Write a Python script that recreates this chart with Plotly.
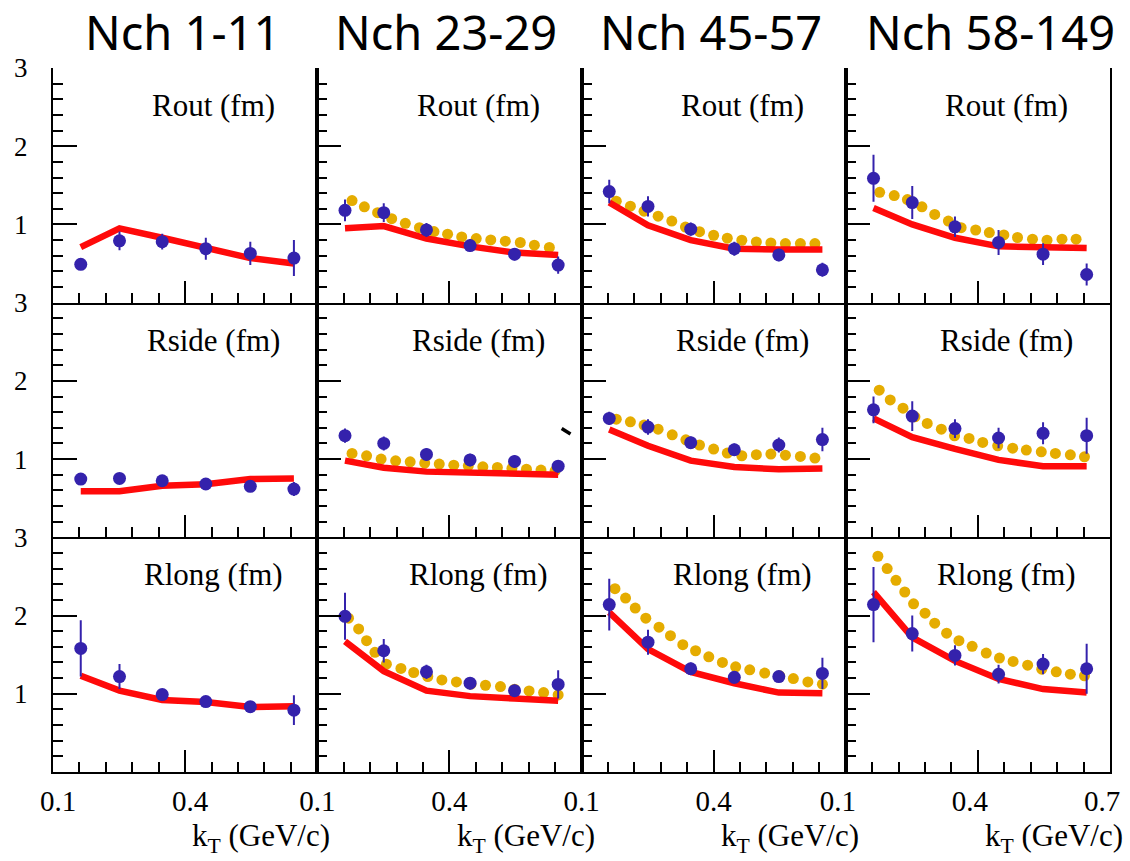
import plotly.graph_objects as go
from plotly.subplots import make_subplots

# ---------------- data ----------------
nch_bins = ["Nch 1-11", "Nch 23-29", "Nch 45-57", "Nch 58-149"]
radii = ["Rout (fm)", "Rside (fm)", "Rlong (fm)"]
kt = [0.163, 0.251, 0.348, 0.447, 0.548, 0.647]

x_ticks = [0.1, 0.4, 0.7]
x_minor = [0.16, 0.22, 0.28, 0.34, 0.46, 0.52, 0.58, 0.64]
y_ticks = [0, 1, 2, 3]
y_ticktext = ["", "1", "2", "3"]

# measured radii (blue points), one list per Nch bin
rout_data = [
    [0.49, 0.79, 0.78, 0.69, 0.63, 0.57],
    [1.18, 1.15, 0.93, 0.73, 0.62, 0.48],
    [1.42, 1.23, 0.94, 0.69, 0.61, 0.42],
    [1.59, 1.28, 0.97, 0.77, 0.62, 0.36],
]
rout_err = [
    [0.05, 0.12, 0.10, 0.14, 0.15, 0.23],
    [0.14, 0.12, 0.09, 0.08, 0.08, 0.11],
    [0.15, 0.13, 0.085, 0.09, 0.08, 0.09],
    [0.30, 0.21, 0.13, 0.16, 0.14, 0.14],
]
rside_data = [
    [0.745, 0.753, 0.723, 0.682, 0.652, 0.617],
    [1.30, 1.20, 1.06, 0.99, 0.97, 0.91],
    [1.52, 1.41, 1.21, 1.12, 1.18, 1.25],
    [1.63, 1.55, 1.39, 1.27, 1.33, 1.30],
]
rside_err = [
    [0.05, 0.05, 0.05, 0.05, 0.05, 0.09],
    [0.09, 0.09, 0.08, 0.08, 0.08, 0.08],
    [0.085, 0.10, 0.08, 0.08, 0.095, 0.15],
    [0.17, 0.19, 0.12, 0.13, 0.14, 0.23],
]
rlong_data = [
    [1.58, 1.22, 0.99, 0.90, 0.835, 0.79],
    [1.99, 1.55, 1.28, 1.135, 1.04, 1.12],
    [2.14, 1.66, 1.32, 1.21, 1.22, 1.26],
    [2.14, 1.77, 1.49, 1.25, 1.38, 1.32],
]
rlong_err = [
    [0.36, 0.16, 0.07, 0.07, 0.06, 0.19],
    [0.30, 0.15, 0.09, 0.08, 0.08, 0.18],
    [0.33, 0.16, 0.08, 0.08, 0.07, 0.20],
    [0.48, 0.23, 0.13, 0.12, 0.13, 0.32],
]

# red model curves (at kt)
rout_red = [
    [0.71, 0.95, 0.83, 0.71, 0.57, 0.50],
    [0.95, 0.98, 0.82, 0.72, 0.64, 0.61],
    [1.28, 0.99, 0.80, 0.69, 0.68, 0.68],
    [1.21, 1.00, 0.83, 0.72, 0.71, 0.70],
]
rside_red = [
    [0.59, 0.59, 0.66, 0.68, 0.745, 0.753],
    [0.98, 0.89, 0.84, 0.82, 0.81, 0.80],
    [1.38, 1.17, 0.98, 0.90, 0.87, 0.88],
    [1.52, 1.28, 1.13, 0.99, 0.91, 0.91],
]
rlong_red = [
    [1.23, 1.04, 0.92, 0.895, 0.83, 0.84],
    [1.67, 1.29, 1.04, 0.97, 0.94, 0.91],
    [2.04, 1.57, 1.28, 1.135, 1.015, 1.006],
    [2.30, 1.72, 1.42, 1.19, 1.06, 1.015],
]

# yellow dotted model curves (kT, R) -- none for the first Nch bin
rout_dot_kt = [
    None,
    [0.179, 0.207, 0.237, 0.269, 0.300, 0.332, 0.365, 0.396, 0.428, 0.461, 0.494, 0.527, 0.561, 0.593, 0.627],
    [0.179, 0.211, 0.242, 0.274, 0.305, 0.336, 0.368, 0.400, 0.431, 0.464, 0.497, 0.530, 0.563, 0.597, 0.630],
    [0.177, 0.210, 0.240, 0.273, 0.302, 0.333, 0.362, 0.395, 0.426, 0.459, 0.490, 0.524, 0.557, 0.591, 0.623],
]
rout_dot = [
    None,
    [1.305, 1.226, 1.15, 1.074, 1.014, 0.959, 0.909, 0.875, 0.840, 0.820, 0.802, 0.786, 0.769, 0.735, 0.706],
    [1.297, 1.233, 1.170, 1.106, 1.043, 0.967, 0.908, 0.862, 0.824, 0.798, 0.777, 0.764, 0.756, 0.756, 0.756],
    [1.411, 1.369, 1.318, 1.226, 1.128, 1.043, 0.959, 0.929, 0.896, 0.866, 0.833, 0.811, 0.798, 0.811, 0.811],
]
rside_dot_kt = [
    None,
    [0.179, 0.212, 0.245, 0.278, 0.311, 0.344, 0.377, 0.410, 0.443, 0.476, 0.509, 0.542, 0.575, 0.608, 0.640],
    [0.179, 0.211, 0.242, 0.274, 0.306, 0.337, 0.368, 0.400, 0.431, 0.464, 0.497, 0.530, 0.563, 0.597, 0.630],
    [0.176, 0.201, 0.230, 0.257, 0.285, 0.317, 0.347, 0.380, 0.411, 0.445, 0.479, 0.510, 0.544, 0.576, 0.610, 0.642],
]
rside_dot = [
    None,
    [1.073, 1.042, 1.0, 0.978, 0.966, 0.949, 0.936, 0.923, 0.914, 0.902, 0.894, 0.881, 0.872, 0.860, 0.851],
    [1.511, 1.477, 1.435, 1.383, 1.311, 1.247, 1.179, 1.128, 1.077, 1.043, 1.056, 1.064, 1.051, 1.034, 1.013],
    [1.881, 1.757, 1.651, 1.540, 1.456, 1.383, 1.298, 1.264, 1.213, 1.170, 1.140, 1.115, 1.093, 1.073, 1.055, 1.029],
]
rlong_dot_kt = [
    None,
    [0.171, 0.194, 0.212, 0.231, 0.257, 0.290, 0.319, 0.351, 0.383, 0.416, 0.449, 0.482, 0.516, 0.548, 0.581, 0.614, 0.647],
    [0.176, 0.200, 0.222, 0.246, 0.276, 0.302, 0.330, 0.359, 0.389, 0.420, 0.450, 0.482, 0.516, 0.550, 0.581, 0.614, 0.647],
    [0.173, 0.194, 0.214, 0.234, 0.254, 0.280, 0.302, 0.329, 0.357, 0.387, 0.419, 0.449, 0.480, 0.513, 0.545, 0.578, 0.610, 0.642],
]
rlong_dot = [
    None,
    [1.966, 1.829, 1.679, 1.530, 1.379, 1.324, 1.272, 1.221, 1.177, 1.152, 1.122, 1.109, 1.092, 1.058, 1.036, 1.015, 0.985],
    [2.343, 2.224, 2.095, 1.967, 1.851, 1.743, 1.627, 1.550, 1.473, 1.401, 1.345, 1.306, 1.264, 1.229, 1.195, 1.152, 1.122],
    [2.758, 2.600, 2.450, 2.301, 2.150, 2.031, 1.902, 1.774, 1.679, 1.607, 1.521, 1.456, 1.414, 1.366, 1.315, 1.280, 1.251, 1.229],
]

# ---------------- styles ----------------
BLUE = "#3422AC"
RED = "#FF0A0A"
GOLD = "#E5AC00"
SERIF = "Liberation Serif"
SANS = "Noto Sans"

data_rows = [rout_data, rside_data, rlong_data]
err_rows = [rout_err, rside_err, rlong_err]
red_rows = [rout_red, rside_red, rlong_red]
dotx_rows = [rout_dot_kt, rside_dot_kt, rlong_dot_kt]
doty_rows = [rout_dot, rside_dot, rlong_dot]

fig = make_subplots(rows=3, cols=4, horizontal_spacing=0, vertical_spacing=0)

for r in range(3):
    for c in range(4):
        row, col = r + 1, c + 1
        if dotx_rows[r][c] is not None:
            fig.add_trace(go.Scatter(
                x=dotx_rows[r][c], y=doty_rows[r][c], mode="markers",
                marker=dict(size=11, color=GOLD, line=dict(width=0)),
                showlegend=False, hoverinfo="skip"), row=row, col=col)
        fig.add_trace(go.Scatter(
            x=kt, y=red_rows[r][c], mode="lines",
            line=dict(color=RED, width=6.5),
            showlegend=False, hoverinfo="skip"), row=row, col=col)
        fig.add_trace(go.Scatter(
            x=kt, y=data_rows[r][c], mode="markers",
            marker=dict(size=13, color=BLUE, line=dict(width=0)),
            error_y=dict(type="data", array=err_rows[r][c], visible=True,
                         color=BLUE, thickness=2, width=0),
            showlegend=False, hoverinfo="skip"), row=row, col=col)

        n = r * 4 + c + 1
        xt = ["0.1", "0.4", "0.7"] if c == 3 else ["0.1", "0.4", ""]
        fig.update_xaxes(
            range=[0.1, 0.7], showgrid=False, zeroline=False,
            showline=True, linecolor="black", linewidth=2,
            ticks="inside", tickvals=x_ticks, ticktext=xt, ticklen=22,
            tickwidth=1.5, tickcolor="black",
            minor=dict(tickvals=x_minor, ticks="inside", ticklen=10,
                       tickwidth=1.5, tickcolor="black"),
            showticklabels=(r == 2),
            ticklabelshift=(-8 if c == 3 else (5 if c == 0 else 0)),
            ticklabelstandoff=2,
            tickfont=dict(family=SERIF, size=29, color="black"),
            row=row, col=col)
        fig.update_yaxes(
            range=[0, 3], showgrid=False, zeroline=False,
            showline=True, linecolor="black", linewidth=2, mirror=True,
            ticks="inside", tickvals=y_ticks, ticktext=y_ticktext, ticklen=24,
            tickwidth=1.5, tickcolor="black",
            minor=dict(dtick=0.2, tick0=0, ticks="inside", ticklen=10,
                       tickwidth=1.5, tickcolor="black"),
            showticklabels=(c == 0),
            ticklabelstandoff=18,
            tickfont=dict(family=SERIF, size=27, color="black"),
            row=row, col=col)

        sfx = "" if n == 1 else str(n)
        fig.add_annotation(
            text=radii[r], x=0.465, y=2.52, xref="x" + sfx, yref="y" + sfx,
            showarrow=False, font=dict(family=SERIF, size=31, color="black"),
            xanchor="center", yanchor="middle")

for c in range(4):
    sfx = "" if c == 0 else str(c + 1)
    fig.add_annotation(
        text=nch_bins[c], xref="x" + sfx + " domain", x=0.5, yref="paper", y=1,
        xshift=(13 if c == 3 else -3), yshift=36, showarrow=False,
        xanchor="center", yanchor="middle",
        font=dict(family=SANS, size=47, color="black"))
    bsfx = str(9 + c)
    fig.add_annotation(
        text="k<sub>T</sub> (GeV/c)", xref="x" + bsfx, x=0.573, yref="paper", y=0,
        yshift=-66, showarrow=False, xanchor="center", yanchor="middle",
        font=dict(family=SERIF, size=31, color="black"))

# small stray stroke visible in the Nch 23-29 Rside panel
fig.add_shape(type="line", xref="x6", yref="y6", x0=0.655, y0=1.39, x1=0.675, y1=1.32,
              line=dict(color="black", width=3.5))

fig.update_layout(
    width=1130, height=861,
    margin=dict(l=53, r=10, t=68, b=89),
    paper_bgcolor="white", plot_bgcolor="white",
    showlegend=False,
)

fig.write_html("out.html")
